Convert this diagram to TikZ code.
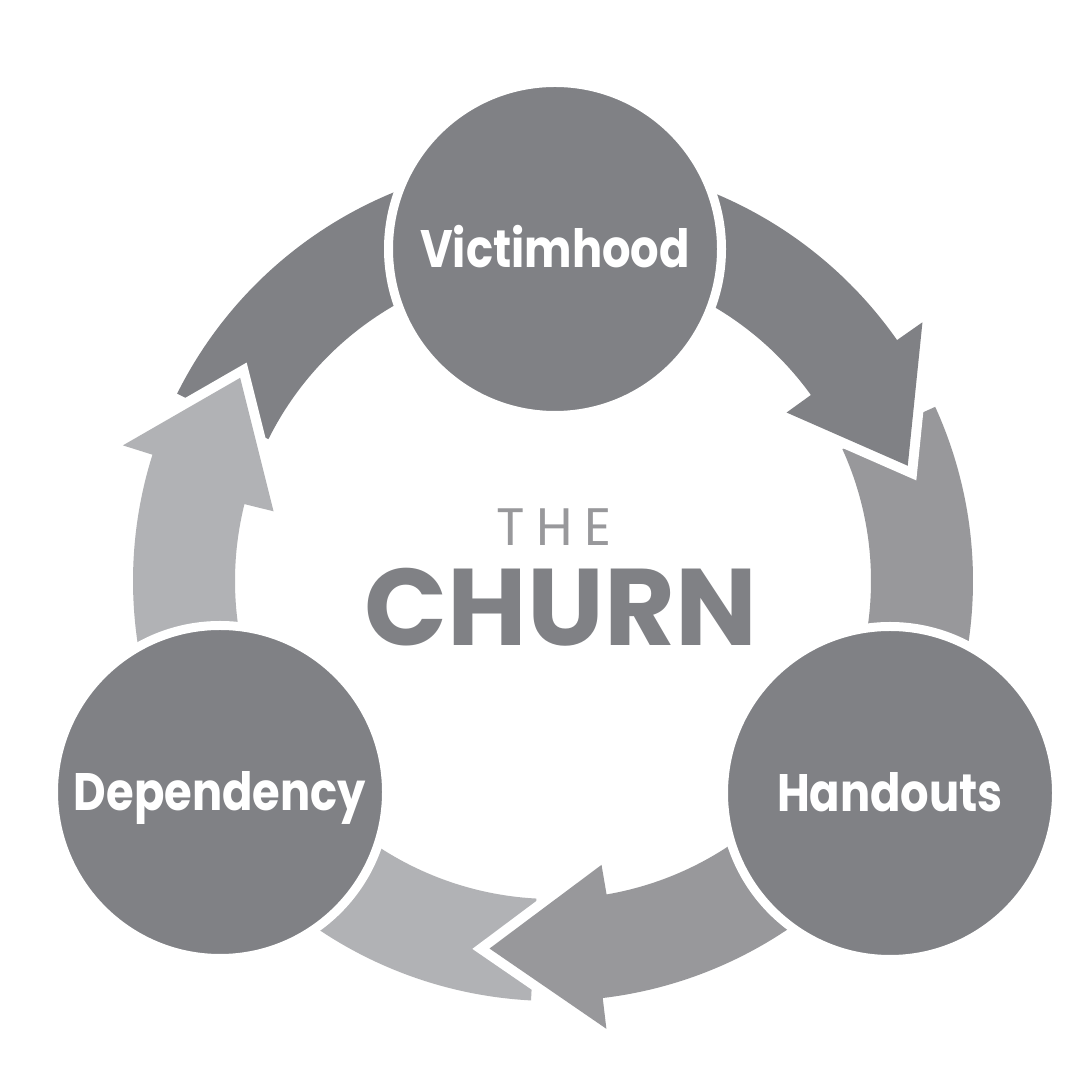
\documentclass[tikz,border=0pt]{standalone}
\usepackage{fontspec}
\setmainfont{Poppins}
\newfontfamily\hubfont{Poppins}[FakeStretch=0.85]
\definecolor{cdark}{RGB}{128,129,133}
\definecolor{cmid}{RGB}{152,152,155}
\definecolor{clight}{RGB}{177,178,181}
\tikzset{hub/.style={circle,fill=cdark,draw=white,line width=0.09cm,minimum size=3.33cm,inner sep=0pt,text=white,text height=10.5pt,text depth=0pt,font=\hubfont\bfseries\fontsize{15}{15}\selectfont}}
\tikzset{piece/.style={fill=#1,preaction={draw=white,line width=0.2cm,miter limit=20}}}
\tikzset{title/.style={text=cdark,inner sep=0pt}}

\begin{document}
\begin{tikzpicture}
\useasboundingbox (0,0) rectangle (10.8,10.8);
\coordinate (O) at (5.53,4.99);

% tails first, so the heads sit on them
\begin{scope}[shift={(O)}]
\foreach \s/\e/\c in {24.5/-32/cmid, -93/-148/clight, 153.5/90/cdark}
  \fill[piece=\c] (\s:4.2) arc[start angle=\s, end angle=\e, radius=4.2]
    -- (\e:3.18) arc[start angle=\e, end angle=\s, radius=3.18] -- cycle;
% arrows leaving each circle
\foreach \a/\bo/\bi/\t/\c in {90/35/35.8/18/cdark, -32/-83.2/-80.3/-99.8/cmid, 212/162.5/166/147/clight}
  \fill[piece=\c] (\a:4.2) arc[start angle=\a, end angle=\bo, radius=4.2]
    -- (\bo:4.51) -- (\t:3.73) -- (\bi:2.88) -- (\bi:3.18)
    arc[start angle=\bi, end angle=\a, radius=3.18] -- cycle;
\end{scope}

\node[hub](vic) at (5.55,8.31) {Victimhood};
\node[hub](hand) at (8.90,2.87) {Handouts};
\node[hub](dep) at (2.20,2.88) {Dependency};

\node[title,text=cmid,font=\fontsize{15}{15}\selectfont\addfontfeatures{LetterSpace=22}](the) at (5.54,5.53) {THE};
\node[title,font=\bfseries\fontsize{31}{31}\selectfont](churn) at (5.61,4.73) {CHURN};
\end{tikzpicture}
\end{document}
